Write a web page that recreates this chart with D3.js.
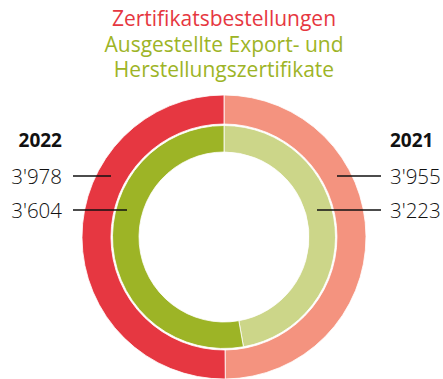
<!DOCTYPE html>
<html>
<head>
<meta charset="utf-8">
<script src="https://cdn.jsdelivr.net/npm/d3@7"></script>
<style>
  html, body { margin: 0; padding: 0; background: #fff; }
  svg { display: block; font-family: "Open Sans", "Noto Sans", sans-serif; }
</style>
</head>
<body>
<svg id="chart" width="443" height="379"></svg>
<script>
// Years shown on either side of the rings (right half first, drawn clockwise from 12 o'clock)
const years = ["2021", "2022"];
// Outer ring: certificate orders
const orders = [3955, 3978];
// Inner ring: issued export and manufacturing certificates
const issued = [3223, 3604];
const orderColors = ["#F4937F", "#E63741"];
const issuedColors = ["#CCD689", "#9DB426"];
const titleLines = [
  { text: "Zertifikatsbestellungen", color: "#E63741" },
  { text: "Ausgestellte Export- und", color: "#9DB426" },
  { text: "Herstellungszertifikate", color: "#9DB426" }
];
const fmt = v => d3.format(",")(v).replace(/,/g, "'");

const svg = d3.select("#chart");
const cx = 224, cy = 237;

// Title
svg.selectAll("text.title").data(titleLines).join("text")
  .attr("class", "title")
  .attr("x", 224)
  .attr("y", (d, i) => 26 + i * 25.5)
  .attr("text-anchor", "middle")
  .attr("font-size", 21)
  .attr("fill", d => d.color)
  .text(d => d.text);

const pie = d3.pie().sort(null).value(d => d);
const g = svg.append("g").attr("transform", `translate(${cx},${cy})`);

const rings = [
  { values: orders, colors: orderColors, inner: 113, outer: 142 },
  { values: issued, colors: issuedColors, inner: 85, outer: 111.5 }
];

rings.forEach(r => {
  const arc = d3.arc().innerRadius(r.inner).outerRadius(r.outer);
  g.append("g").selectAll("path").data(pie(r.values)).join("path")
    .attr("d", arc)
    .attr("fill", (d, i) => r.colors[i])
    .attr("stroke", "#fff")
    .attr("stroke-width", 0.8);
});

// Year headings
svg.append("text").attr("x", 62).attr("y", 147).attr("text-anchor", "end")
  .attr("font-size", 19).attr("font-weight", "bold").attr("fill", "#111").text(years[1]);
svg.append("text").attr("x", 390).attr("y", 147).attr("text-anchor", "start")
  .attr("font-size", 19).attr("font-weight", "bold").attr("fill", "#111").text(years[0]);

// Value labels with leader lines
const labels = [
  { value: orders[1], side: "left", y: 176, x1: 73, x2: 111 },
  { value: issued[1], side: "left", y: 210, x1: 73, x2: 127 },
  { value: orders[0], side: "right", y: 176, x1: 337, x2: 381 },
  { value: issued[0], side: "right", y: 210, x1: 317, x2: 381 }
];
svg.selectAll("line.leader").data(labels).join("line")
  .attr("class", "leader")
  .attr("x1", d => d.x1).attr("x2", d => d.x2)
  .attr("y1", d => d.y).attr("y2", d => d.y)
  .attr("stroke", "#111").attr("stroke-width", 1.3);
svg.selectAll("text.value").data(labels).join("text")
  .attr("class", "value")
  .attr("x", d => d.side === "left" ? 62 : 390)
  .attr("y", d => d.y + 8)
  .attr("text-anchor", d => d.side === "left" ? "end" : "start")
  .attr("font-size", 20.5)
  .attr("font-weight", 300)
  .attr("fill", "#111")
  .text(d => fmt(d.value));
</script>
</body>
</html>
